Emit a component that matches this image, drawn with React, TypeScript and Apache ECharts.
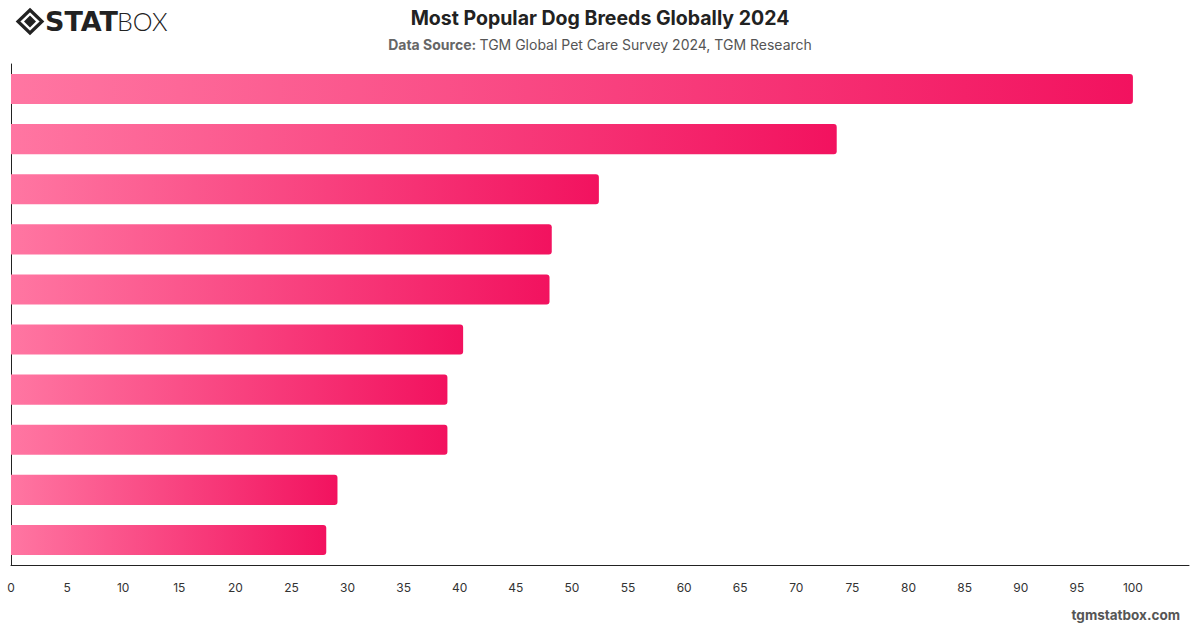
import React, { useEffect, useRef } from "react";
import * as echarts from "echarts";

// Survey share by breed, in display order (top to bottom)
const breeds = [
  "Labrador Retriever",
  "German Shepherd",
  "Golden Retriever",
  "Poodle",
  "Chihuahua",
  "Bulldog",
  "Beagle",
  "Dachshund",
  "Yorkshire Terrier",
  "Shih Tzu",
];
const shares = [100, 73.6, 52.4, 48.2, 48.0, 40.3, 38.9, 38.9, 29.1, 28.1];
const axisTicks = [0, 5, 10, 15, 20, 25, 30, 35, 40, 45, 50, 55, 60, 65, 70, 75, 80, 85, 90, 95, 100];

const titleText = "Most Popular Dog Breeds Globally 2024";
const sourceLabel = "Data Source:";
const sourceText = "TGM Global Pet Care Survey 2024, TGM Research";
const footerText = "tgmstatbox.com";

export default function App() {
  const ref = useRef<HTMLDivElement>(null);

  useEffect(() => {
    if (!ref.current) return;
    const chart = echarts.init(ref.current, undefined, { renderer: "svg" });
    const font = "Inter, 'Open Sans', 'Noto Sans', sans-serif";
    const barFill = new echarts.graphic.LinearGradient(0, 0, 1, 0, [
      { offset: 0, color: "#ff76a2" },
      { offset: 1, color: "#f2125f" },
    ]);

    chart.setOption({
      animation: false,
      backgroundColor: "#ffffff",
      textStyle: { fontFamily: font },
      title: {
        text: titleText,
        subtext: `{b|${sourceLabel}} {n|${sourceText}}`,
        left: "center",
        top: 3,
        itemGap: 9,
        textStyle: { fontSize: 19.5, fontWeight: "bold", color: "#222222", fontFamily: font },
        subtextStyle: {
          fontFamily: font,
          rich: {
            b: { fontSize: 14, fontWeight: "bold", color: "#666666", fontFamily: font },
            n: { fontSize: 14, color: "#555555", fontFamily: font },
          },
        },
      },
      grid: { left: 11, right: 11, top: 64, bottom: 63, containLabel: false },
      xAxis: {
        type: "value",
        min: 0,
        max: 105,
        interval: 5,
        splitLine: { show: false },
        axisTick: { show: false },
        axisLine: { show: true, lineStyle: { color: "#222222", width: 1 } },
        axisLabel: {
          color: "#333333",
          fontSize: 12,
          margin: 16,
          fontFamily: font,
          formatter: (v: number) => (axisTicks.includes(v) ? String(v) : ""),
        },
      },
      yAxis: {
        type: "category",
        data: breeds,
        inverse: true,
        axisTick: { show: false },
        axisLabel: { show: false },
        axisLine: { show: true, lineStyle: { color: "#222222", width: 1 } },
      },
      series: [
        {
          type: "bar",
          data: shares,
          barCategoryGap: "40%",
          itemStyle: { color: barFill, borderRadius: [0, 3, 3, 0] },
        },
      ],
      graphic: [
        // logo mark: outlined diamond with a filled inner diamond
        {
          type: "polygon",
          shape: { points: [[30, 10], [42, 21.5], [30, 33], [18, 21.5]] },
          style: { fill: "none", stroke: "#222222", lineWidth: 3.2 },
        },
        {
          type: "polygon",
          shape: { points: [[30, 15.5], [36, 21.5], [30, 27.5], [24, 21.5]] },
          style: { fill: "#222222" },
        },
        {
          type: "text",
          left: 45,
          top: 8,
          style: {
            text: "STAT",
            fontSize: 27,
            fontWeight: 900,
            fontFamily: "'DejaVu Sans', sans-serif",
            fill: "#222222",
          },
        },
        {
          type: "text",
          left: 117,
          top: 8,
          style: {
            text: "BOX",
            fontSize: 25,
            fontWeight: 300,
            fontFamily: "Lato, 'Open Sans', sans-serif",
            fill: "#222222",
          },
        },
        {
          type: "text",
          right: 20,
          top: 608,
          style: {
            text: footerText,
            fontSize: 13.5,
            fontWeight: "bold",
            fontFamily: font,
            fill: "#555555",
          },
        },
      ],
    });

    return () => chart.dispose();
  }, []);

  return <div ref={ref} style={{ width: 1200, height: 628, position: "absolute", left: 0, top: 0 }} />;
}
